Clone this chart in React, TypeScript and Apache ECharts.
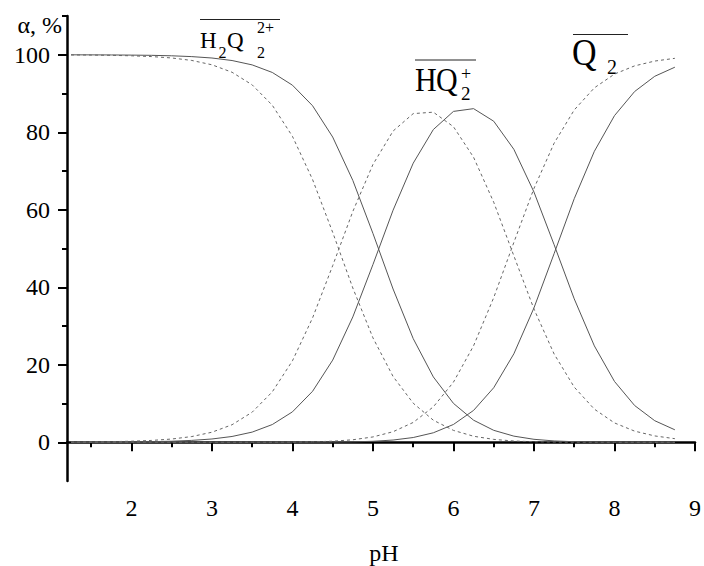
import React, { useEffect, useRef } from "react";
import * as echarts from "echarts";

// pH sampling points
const pH = [1.25, 1.5, 1.75, 2, 2.25, 2.5, 2.75, 3, 3.25, 3.5, 3.75, 4, 4.25, 4.5, 4.75, 5, 5.25, 5.5, 5.75, 6, 6.25, 6.5, 6.75, 7, 7.25, 7.5, 7.75, 8, 8.25, 8.5, 8.75];

// solid curves
const solidH2Q = [99.98, 99.97, 99.95, 99.91, 99.85, 99.73, 99.52, 99.16, 98.51, 97.38, 95.43, 92.15, 86.84, 78.76, 67.57, 53.89, 39.55, 26.75, 16.86, 10.03, 5.69, 3.08, 1.58, 0.76, 0.34, 0.14, 0.05, 0.02, 0.01, 0, 0];
const solidHQ = [0.02, 0.03, 0.05, 0.09, 0.15, 0.27, 0.48, 0.84, 1.49, 2.62, 4.57, 7.84, 13.15, 21.2, 32.34, 45.86, 59.88, 72.02, 80.7, 85.38, 86.09, 82.85, 75.6, 64.57, 50.99, 37.01, 24.87, 15.69, 9.48, 5.56, 3.21];
const solidQ = [0, 0, 0, 0, 0, 0, 0, 0, 0, 0, 0, 0, 0.01, 0.04, 0.1, 0.25, 0.57, 1.22, 2.44, 4.59, 8.22, 14.07, 22.82, 34.68, 48.67, 62.85, 75.08, 84.29, 90.51, 94.44, 96.79];

// dashed curves
const dashedH2Q = [99.95, 99.92, 99.85, 99.73, 99.53, 99.17, 98.53, 97.41, 95.48, 92.23, 86.97, 78.95, 67.8, 54.16, 39.81, 26.94, 16.97, 10.08, 5.69, 3.06, 1.55, 0.74, 0.32, 0.13, 0.05, 0.02, 0.01, 0, 0, 0, 0];
const dashedHQ = [0.05, 0.08, 0.15, 0.27, 0.47, 0.83, 1.47, 2.59, 4.52, 7.76, 13.01, 21.01, 32.09, 45.57, 59.55, 71.69, 80.31, 84.81, 85.18, 81.43, 73.53, 61.94, 48.12, 34.38, 22.78, 14.23, 8.54, 4.99, 2.87, 1.63, 0.92];
const dashedQ = [0, 0, 0, 0, 0, 0, 0, 0, 0, 0.01, 0.01, 0.04, 0.11, 0.27, 0.64, 1.37, 2.72, 5.11, 9.13, 15.51, 24.91, 37.32, 51.56, 65.5, 77.17, 85.75, 91.46, 95.01, 97.13, 98.37, 99.08];

// ticks
const xMajorTicks = [2, 3, 4, 5, 6, 7, 8, 9];
const xMinorTicks = [1.5, 2.5, 3.5, 4.5, 5.5, 6.5, 7.5, 8.5];
const yMajorTicks = [0, 20, 40, 60, 80, 100];
const yMinorTicks = [10, 30, 50, 70, 90, 110];

const FAMILY = "'Liberation Serif', 'DejaVu Serif', serif";

function pairs(ys: number[]) {
  return pH.map((x, i) => [x, ys[i]]);
}

function txt(text: string, x: number, y: number, size: number, scaleY = 1, align = "left") {
  return {
    type: "text",
    x,
    y,
    scaleY,
    silent: true,
    style: {
      text,
      x: 0,
      y: 0,
      font: `${size}px ${FAMILY}`,
      fill: "#000",
      align,
      verticalAlign: "middle",
      textAlign: align,
      textVerticalAlign: "middle",
    },
  };
}

function overline(x1: number, x2: number, y: number) {
  return {
    type: "line",
    silent: true,
    shape: { x1, y1: y, x2, y2: y },
    style: { stroke: "#222", lineWidth: 1 },
  };
}

export default function App() {
  const ref = useRef<HTMLDivElement>(null);
  useEffect(() => {
    if (!ref.current) return;
    const chart = echarts.init(ref.current, undefined, { renderer: "svg" });
    const solidStyle = { color: "#555", width: 1, type: "solid" as const };
    const dashedStyle = { color: "#666", width: 1, type: [3, 3] as any };
    const mk = (name: string, ys: number[], style: any) => ({
      name,
      type: "line",
      xAxisIndex: 0,
      yAxisIndex: 0,
      data: pairs(ys),
      showSymbol: false,
      symbol: "none",
      lineStyle: style,
      itemStyle: { color: style.color },
      silent: true,
    });
    chart.setOption({
      animation: false,
      backgroundColor: "#fff",
      textStyle: { fontFamily: FAMILY },
      grid: { left: 67, right: 2, top: 16, bottom: 85 },
      xAxis: [
        {
          type: "value",
          position: "bottom",
          min: 1.2,
          max: 9,
          axisLine: { show: true, lineStyle: { color: "#000", width: 2.5 } },
          axisTick: { show: true, inside: false, length: 9, lineStyle: { color: "#000", width: 2 }, customValues: xMajorTicks },
          axisLabel: { show: true, customValues: xMajorTicks, margin: 15, color: "#000", fontSize: 24, fontFamily: FAMILY },
          splitLine: { show: false },
        },
        {
          type: "value",
          position: "bottom",
          min: 1.2,
          max: 9,
          axisLine: { show: false },
          axisTick: { show: true, inside: false, length: 5, lineStyle: { color: "#000", width: 2 }, customValues: xMinorTicks },
          axisLabel: { show: false },
          splitLine: { show: false },
        },
      ],
      yAxis: [
        {
          type: "value",
          position: "left",
          min: -10,
          max: 110,
          axisLine: { show: true, lineStyle: { color: "#000", width: 2.5 } },
          axisTick: { show: true, inside: false, length: 9, lineStyle: { color: "#000", width: 2 }, customValues: yMajorTicks },
          axisLabel: { show: true, customValues: yMajorTicks, margin: 17, color: "#000", fontSize: 24, fontFamily: FAMILY },
          splitLine: { show: false },
        },
        {
          type: "value",
          position: "left",
          min: -10,
          max: 110,
          axisLine: { show: false },
          axisTick: { show: true, inside: false, length: 5, lineStyle: { color: "#000", width: 2 }, customValues: yMinorTicks },
          axisLabel: { show: false },
          splitLine: { show: false },
        },
      ],
      series: [
        mk("H2Q solid", solidH2Q, solidStyle),
        mk("HQ solid", solidHQ, solidStyle),
        mk("Q solid", solidQ, solidStyle),
        mk("H2Q dashed", dashedH2Q, dashedStyle),
        mk("HQ dashed", dashedHQ, dashedStyle),
        mk("Q dashed", dashedQ, dashedStyle),
      ],
      graphic: {
        elements: [
          // axis titles
          txt("α, %", 62, 25, 24, 1, "right"),
          txt("pH", 384, 553, 24, 1, "center"),
          // H2Q2 2+
          overline(200, 280, 19.5),
          txt("H", 200, 40, 23),
          txt("2", 218.5, 52, 16),
          txt("Q", 227, 40, 23),
          txt("2+", 257, 27.5, 16),
          txt("2", 257, 52, 16),
          // HQ2 +
          overline(415, 476, 60),
          txt("H", 415, 80, 30, 1.12),
          txt("Q", 436, 80, 30, 1.12),
          txt("+", 461, 73.5, 18),
          txt("2", 461, 93, 19),
          // Q 2
          overline(573, 628, 34.5),
          txt("Q", 572, 52, 34, 1.12),
          txt("2", 607, 67, 20),
        ],
      },
    });
    return () => chart.dispose();
  }, []);
  return (
    <div
      ref={ref}
      style={{ position: "fixed", left: 0, top: 0, width: 704, height: 566, background: "#fff" }}
    />
  );
}
